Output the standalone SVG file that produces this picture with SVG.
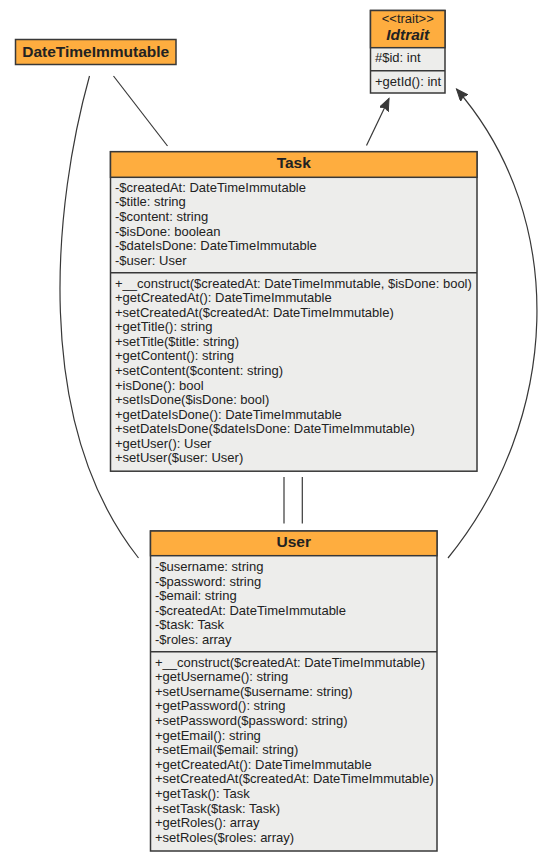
<svg xmlns="http://www.w3.org/2000/svg" width="545" height="861" viewBox="0 0 545 861">
  <style>
    .hdr { fill: #FEAD3F; stroke: #383838; stroke-width: 1.5; }
    .body { fill: #EDEDEB; stroke: #383838; stroke-width: 1.5; }
    .sep { stroke: #383838; stroke-width: 1.5; }
    text { font-family: "Liberation Sans", Arial, sans-serif; fill: #222222; }
    .name { font-size: 15.5px; font-weight: bold; text-anchor: middle; }
    .stereo { font-size: 13px; text-anchor: middle; }
    .mem { font-size: 13px; }
    .link { fill: none; stroke: #383838; stroke-width: 1.2; }
  </style>
  <defs>
    <marker id="tri" markerWidth="14" markerHeight="12" refX="12" refY="5" orient="auto" markerUnits="userSpaceOnUse">
      <path d="M0,0 L12,5 L0,10 L2,5 Z" fill="#383838" stroke="#383838" stroke-width="1"/>
    </marker>
  </defs>

  <rect width="545" height="861" fill="#FFFFFF"/>

  <!-- connectors -->
  <g id="links">
    <line class="link" x1="113.5" y1="76" x2="167.5" y2="146"/>
    <path class="link" d="M89.5,76 C55,200 30,420 138.5,558"/>
    <line class="link" x1="366.5" y1="145.5" x2="389" y2="98.5" marker-end="url(#tri)"/>
    <path class="link" d="M448,558 C560,420 570,220 456.5,89" marker-end="url(#tri)"/>
    <line class="link" x1="284" y1="477" x2="284" y2="523.5"/>
    <line class="link" x1="302.3" y1="477" x2="302.3" y2="523.5"/>
  </g>

  <!-- DateTimeImmutable -->
  <g id="DateTimeImmutable">
    <rect class="hdr" x="15.5" y="39.5" width="160.5" height="25"/>
    <text class="name" x="95.75" y="57">DateTimeImmutable</text>
  </g>

  <!-- Idtrait -->
  <g id="Idtrait">
    <rect class="body" x="370.5" y="10.5" width="74.5" height="82.5"/>
    <rect class="hdr" x="370.5" y="10.5" width="74.5" height="37.2"/>
    <line class="sep" x1="370.5" y1="70.7" x2="445" y2="70.7"/>
    <text class="stereo" x="407.75" y="23.3">&lt;&lt;trait&gt;&gt;</text>
    <text class="name" x="407.75" y="39.5" font-style="italic">Idtrait</text>
    <text class="mem" x="375" y="62.3">#$id: int</text>
    <text class="mem" x="375" y="85.5">+getId(): int</text>
  </g>

  <!-- Task -->
  <g id="Task">
    <rect class="body" x="110.5" y="151.7" width="366.5" height="319.5"/>
    <rect class="hdr" x="110.5" y="151.7" width="366.5" height="25.6"/>
    <line class="sep" x1="110.5" y1="272.7" x2="477" y2="272.7"/>
    <text class="name" x="293.75" y="168">Task</text>
    <text class="mem" x="115">
      <tspan x="115" y="191.7">-$createdAt: DateTimeImmutable</tspan>
      <tspan x="115" y="206.3">-$title: string</tspan>
      <tspan x="115" y="220.9">-$content: string</tspan>
      <tspan x="115" y="235.5">-$isDone: boolean</tspan>
      <tspan x="115" y="250.1">-$dateIsDone: DateTimeImmutable</tspan>
      <tspan x="115" y="264.7">-$user: User</tspan>
    </text>
    <text class="mem" x="115">
      <tspan x="115" y="287.7">+__construct($createdAt: DateTimeImmutable, $isDone: bool)</tspan>
      <tspan x="115" y="302.25">+getCreatedAt(): DateTimeImmutable</tspan>
      <tspan x="115" y="316.8">+setCreatedAt($createdAt: DateTimeImmutable)</tspan>
      <tspan x="115" y="331.35">+getTitle(): string</tspan>
      <tspan x="115" y="345.9">+setTitle($title: string)</tspan>
      <tspan x="115" y="360.45">+getContent(): string</tspan>
      <tspan x="115" y="375">+setContent($content: string)</tspan>
      <tspan x="115" y="389.55">+isDone(): bool</tspan>
      <tspan x="115" y="404.1">+setIsDone($isDone: bool)</tspan>
      <tspan x="115" y="418.65">+getDateIsDone(): DateTimeImmutable</tspan>
      <tspan x="115" y="433.2">+setDateIsDone($dateIsDone: DateTimeImmutable)</tspan>
      <tspan x="115" y="447.75">+getUser(): User</tspan>
      <tspan x="115" y="462.3">+setUser($user: User)</tspan>
    </text>
  </g>

  <!-- User -->
  <g id="User">
    <rect class="body" x="150.5" y="531" width="286.5" height="320"/>
    <rect class="hdr" x="150.5" y="531" width="286.5" height="24.7"/>
    <line class="sep" x1="150.5" y1="651.7" x2="437" y2="651.7"/>
    <text class="name" x="293.75" y="547">User</text>
    <text class="mem" x="155">
      <tspan x="155" y="571">-$username: string</tspan>
      <tspan x="155" y="585.6">-$password: string</tspan>
      <tspan x="155" y="600.2">-$email: string</tspan>
      <tspan x="155" y="614.8">-$createdAt: DateTimeImmutable</tspan>
      <tspan x="155" y="629.4">-$task: Task</tspan>
      <tspan x="155" y="644">-$roles: array</tspan>
    </text>
    <text class="mem" x="155">
      <tspan x="155" y="666.7">+__construct($createdAt: DateTimeImmutable)</tspan>
      <tspan x="155" y="681.3">+getUsername(): string</tspan>
      <tspan x="155" y="695.9">+setUsername($username: string)</tspan>
      <tspan x="155" y="710.4">+getPassword(): string</tspan>
      <tspan x="155" y="725">+setPassword($password: string)</tspan>
      <tspan x="155" y="739.6">+getEmail(): string</tspan>
      <tspan x="155" y="754.2">+setEmail($email: string)</tspan>
      <tspan x="155" y="768.8">+getCreatedAt(): DateTimeImmutable</tspan>
      <tspan x="155" y="783.3">+setCreatedAt($createdAt: DateTimeImmutable)</tspan>
      <tspan x="155" y="797.9">+getTask(): Task</tspan>
      <tspan x="155" y="812.5">+setTask($task: Task)</tspan>
      <tspan x="155" y="827.1">+getRoles(): array</tspan>
      <tspan x="155" y="841.7">+setRoles($roles: array)</tspan>
    </text>
  </g>
</svg>
